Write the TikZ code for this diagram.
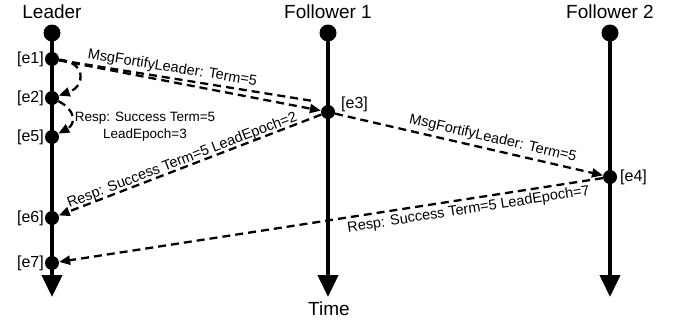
\documentclass[tikz,border=0pt]{standalone}
\usepackage{fontspec}
\setmainfont{Liberation Sans}
\usetikzlibrary{arrows.meta}
\begin{document}
\begin{tikzpicture}[x=1pt,y=-1pt,
  timeline/.style={line width=4pt,-{Triangle[length=22pt,width=20pt]}},
  topdot/.style={circle,fill=black,inner sep=0pt,minimum size=17pt},
  evdot/.style={circle,fill=black,inner sep=0pt,minimum size=14pt},
  title/.style={font=\fontsize{19}{22}\selectfont,anchor=base,inner sep=0pt},
  evlabel/.style={font=\fontsize{16}{19}\selectfont,inner sep=0pt},
  msg/.style={line width=2.3pt,dash pattern=on 8pt off 5pt,-{Triangle[length=11pt,width=9pt]}},
  msglabel/.style={font=\fontsize{13.5}{17}\selectfont,inner sep=0pt},
  slopelabel/.style={font=\fontsize{14.5}{17}\selectfont,inner sep=0pt,sloped}]
\useasboundingbox (0,0) rectangle (683,324);
% titles
\node[title] (tL) at (52,18) {Leader};
\node[title] (tF1) at (328,18) {Follower 1};
\node[title] (tF2) at (610,18) {Follower 2};
\node[title] (tT) at (329,315) {Time};
% timelines
\node[topdot] (sL) at (52,33) {};
\node[topdot] (sF1) at (328,33) {};
\node[topdot] (sF2) at (610,33) {};
\coordinate (endL) at (52,297);
\coordinate (endF1) at (328,297);
\coordinate (endF2) at (610,297);
\draw[timeline] (sL.center) -- (endL);
\draw[timeline] (sF1.center) -- (endF1);
\draw[timeline] (sF2.center) -- (endF2);
% events
\node[evdot] (e1) at (52,59) {};
\node[evdot] (e2) at (52,98) {};
\node[evdot] (e5) at (52,137) {};
\node[evdot] (e6) at (52,218) {};
\node[evdot] (e7) at (52,263) {};
\node[evdot] (e3) at (328,112) {};
\node[evdot] (e4) at (610,177) {};
\node[evlabel,anchor=east] (l1) at (44,59) {[e1]};
\node[evlabel,anchor=east] (l2) at (44,98) {[e2]};
\node[evlabel,anchor=east] (l5) at (44,137) {[e5]};
\node[evlabel,anchor=east] (l6) at (44,218) {[e6]};
\node[evlabel,anchor=east] (l7) at (44,263) {[e7]};
\node[evlabel,anchor=west] (l3) at (341,104) {[e3]};
\node[evlabel,anchor=west] (l4) at (620,177) {[e4]};
% messages
\coordinate (e3up) at (313,101);
\draw[msg,-] (e1) -- (e3up);
\draw[msg] (e1) -- (e3);
\path (e1) -- (e3up) node[slopelabel,pos=0.44,above=3pt] (m1) {MsgFortifyLeader: Term=5};
\draw[msg] (e1) .. controls (86,62) and (86,86) .. (e2);
\draw[msg] (e2) .. controls (76,110) and (76,124) .. (e5);
\node[msglabel,align=center] (m2) at (145,127) {Resp: Success Term=5\\LeadEpoch=3};
\draw[msg] (e3) -- (e6) node[slopelabel,pos=0.52,above=-1pt] (m3) {Resp: Success Term=5 LeadEpoch=2};
\draw[msg] (e3) -- (e4) node[slopelabel,pos=0.58,above=3pt] (m4) {MsgFortifyLeader: Term=5};
\draw[msg] (e4) -- (e7) node[slopelabel,pos=0.25,below=3pt] (m5) {Resp: Success Term=5 LeadEpoch=7};
\end{tikzpicture}
\end{document}
